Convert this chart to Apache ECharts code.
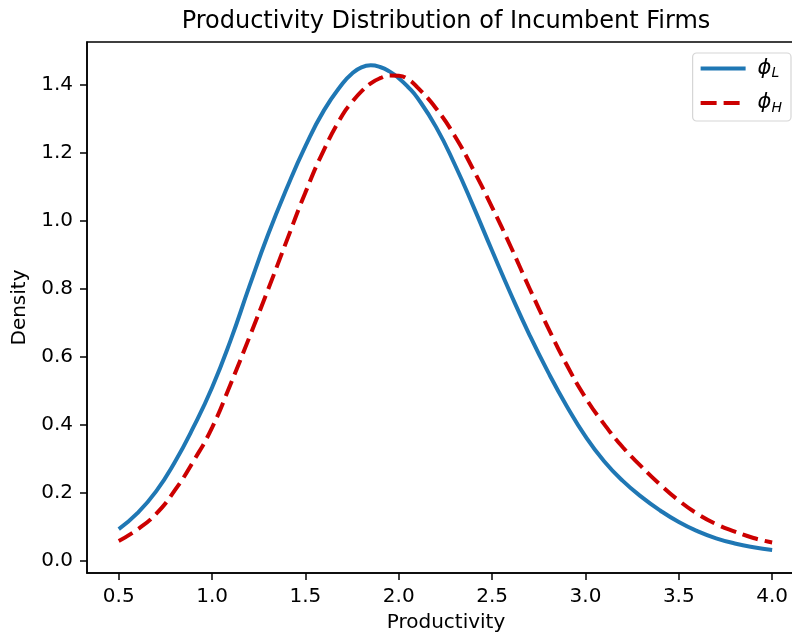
<!DOCTYPE html>
<html>
<head>
<meta charset="utf-8">
<script src="https://cdn.jsdelivr.net/npm/echarts@6/dist/echarts.min.js"></script>
<style>
html,body{margin:0;padding:0;background:#fff;}
#chart{width:792px;height:636px;}
</style>
</head>
<body>
<div id="chart"></div>
<script>
// ---- data ----
const xValues = [0.5,0.6,0.7,0.8,0.9,1.0,1.1,1.2,1.3,1.4,1.5,1.6,1.7,1.75,1.8,1.85,1.9,1.95,2.0,2.05,2.1,2.2,2.3,2.4,2.5,2.6,2.7,2.8,2.9,3.0,3.1,3.2,3.3,3.4,3.5,3.6,3.7,3.8,3.9,4.0];
const phiL = [0.093,0.140,0.204,0.290,0.393,0.510,0.650,0.808,0.960,1.096,1.220,1.326,1.405,1.434,1.452,1.458,1.453,1.440,1.420,1.394,1.362,1.276,1.166,1.042,0.912,0.785,0.665,0.555,0.455,0.366,0.293,0.235,0.188,0.148,0.114,0.087,0.066,0.051,0.040,0.032];
const phiH = [0.058,0.092,0.138,0.207,0.293,0.392,0.521,0.658,0.798,0.942,1.084,1.210,1.313,1.350,1.381,1.405,1.420,1.428,1.427,1.417,1.393,1.331,1.250,1.150,1.040,0.924,0.802,0.685,0.576,0.480,0.402,0.334,0.277,0.224,0.177,0.138,0.108,0.086,0.067,0.054];
const seriesNames = ['ϕ_L', 'ϕ_H'];
const xTicks = [0.5,1.0,1.5,2.0,2.5,3.0,3.5,4.0];
const yTicks = [0.0,0.2,0.4,0.6,0.8,1.0,1.2,1.4];
const titleText = 'Productivity Distribution of Incumbent Firms';
const xLabel = 'Productivity';
const yLabel = 'Density';

const FONT = 'DejaVu Sans';
const BLUE = '#1f77b4';
const RED = '#cc0000';
const LW = 4;
const DASH = [16, 7];
const chart = echarts.init(document.getElementById('chart'), null, {renderer: 'canvas'});

function pairs(xs, ys) { return xs.map((x, i) => [x, ys[i]]); }

const option = {
  animation: false,
  backgroundColor: '#ffffff',
  title: {
    text: titleText,
    left: 446,
    textAlign: 'center',
    top: 10,
    padding: 0,
    textStyle: {fontFamily: FONT, fontSize: 24, fontWeight: 'normal', color: '#000'}
  },
  grid: {
    left: 87, top: 42, width: 718, bottom: 63,
    containLabel: false,
    outerBoundsMode: 'none',
    show: true, borderColor: '#000', borderWidth: 1.5, backgroundColor: 'transparent'
  },
  legend: {
    orient: 'vertical',
    right: 1, top: 53,
    padding: [5, 9, 6, 6],
    itemWidth: 45, itemHeight: 20, itemGap: 12,
    borderColor: '#d6d6d6', borderWidth: 1.2, borderRadius: 4,
    backgroundColor: 'rgba(255,255,255,0.8)',
    itemStyle: {color: 'transparent', borderColor: 'transparent', borderWidth: 0, opacity: 0},
    data: [
      {name: seriesNames[0], lineStyle: {color: BLUE, width: LW, type: 'solid'}},
      {name: seriesNames[1], lineStyle: {color: RED, width: LW, type: DASH}}
    ],
    formatter: function (name) {
      const p = name.split('_');
      return '{phi|' + p[0] + '}{sub|' + p[1] + '}';
    },
    textStyle: {
      fontFamily: FONT, color: '#000', padding: [0, 0, 0, 7],
      rich: {
        phi: {fontFamily: FONT, fontStyle: 'italic', fontSize: 21, color: '#000', lineHeight: 24, verticalAlign: 'middle'},
        sub: {fontFamily: FONT, fontStyle: 'italic', fontSize: 14, color: '#000', lineHeight: 24, verticalAlign: 'bottom', padding: [8, 0, 0, 0]}
      }
    }
  },
  xAxis: {
    type: 'value',
    min: 0.33, max: 4.176,
    name: xLabel,
    nameLocation: 'middle',
    nameGap: 40,
    nameTextStyle: {fontFamily: FONT, fontSize: 20, color: '#000'},
    axisLine: {show: true, onZero: false, lineStyle: {color: '#000', width: 1.5}},
    axisTick: {show: true, length: 7, lineStyle: {color: '#000', width: 1.5}, customValues: xTicks},
    axisLabel: {fontFamily: FONT, fontSize: 20, color: '#000', margin: 14, customValues: xTicks,
      formatter: v => v.toFixed(1)},
    splitLine: {show: false}
  },
  yAxis: {
    type: 'value',
    min: -0.036, max: 1.5265,
    name: yLabel,
    nameLocation: 'middle',
    nameGap: 52,
    nameRotate: 90,
    nameTextStyle: {fontFamily: FONT, fontSize: 20, color: '#000'},
    axisLine: {show: true, onZero: false, lineStyle: {color: '#000', width: 1.5}},
    axisTick: {show: true, length: 7, lineStyle: {color: '#000', width: 1.5}, customValues: yTicks},
    axisLabel: {fontFamily: FONT, fontSize: 20, color: '#000', margin: 14, customValues: yTicks,
      formatter: v => v.toFixed(1)},
    splitLine: {show: false}
  },
  series: [
    {
      name: seriesNames[0], type: 'line', data: pairs(xValues, phiL),
      symbol: 'none', smooth: 0.5,
      lineStyle: {color: BLUE, width: LW, type: 'solid'},
      itemStyle: {color: BLUE}
    },
    {
      name: seriesNames[1], type: 'line', data: pairs(xValues, phiH),
      symbol: 'none', smooth: 0.5,
      lineStyle: {color: RED, width: LW, type: DASH},
      itemStyle: {color: RED}
    }
  ]
};
chart.setOption(option);
</script>
</body>
</html>
